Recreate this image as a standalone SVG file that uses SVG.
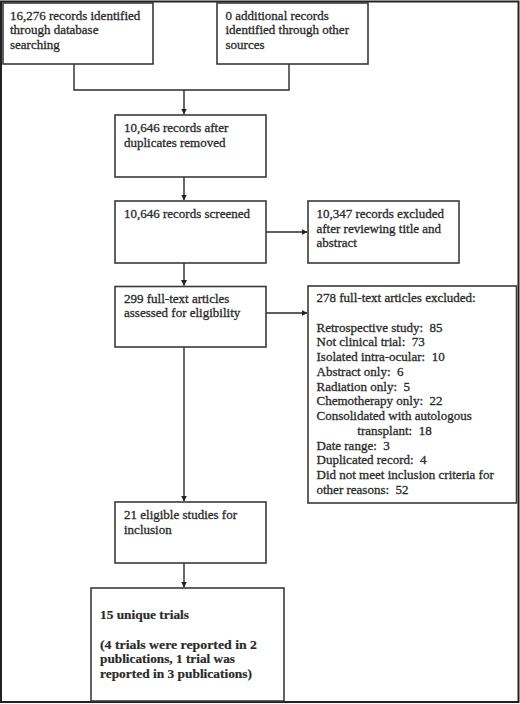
<svg xmlns="http://www.w3.org/2000/svg" width="520" height="704" viewBox="0 0 520 704">
<defs>
<marker id="ah" markerWidth="6" markerHeight="6" refX="5.5" refY="3" orient="auto" markerUnits="userSpaceOnUse">
<path d="M0,0 L6,3 L0,6 Z" fill="#222"/>
</marker>
<style>
.box{fill:#fff;stroke:#3a3a3a;stroke-width:1.6}
.frame{fill:#fff;stroke:#222;stroke-width:2}
.t{font-family:"Liberation Serif","Times New Roman",serif;font-size:13px;fill:#2a2a2a;stroke:#2a2a2a;stroke-width:0.3;white-space:pre}
.b{font-weight:bold;font-size:13.5px;stroke-width:0.2}
.c{fill:none;stroke:#2a2a2a;stroke-width:1.4}
</style>
</defs>
<rect class="frame" x="1" y="1.5" width="517.5" height="700.5"/>
<g id="connectors">
<path class="c" d="M74,64 V90 H289 V64"/>
<path class="c" d="M184,90 V114" marker-end="url(#ah)"/>
<path class="c" d="M184,177 V200" marker-end="url(#ah)"/>
<path class="c" d="M266,232 H307" marker-end="url(#ah)"/>
<path class="c" d="M184,263 V285.5" marker-end="url(#ah)"/>
<path class="c" d="M266,313 H307" marker-end="url(#ah)"/>
<path class="c" d="M184,347 V501" marker-end="url(#ah)"/>
<path class="c" d="M184,563 V587" marker-end="url(#ah)"/>
</g>
<g id="n1">
<rect class="box" x="3" y="3" width="150" height="61"/>
<text class="t" x="10" y="19.5">16,276 records identified</text>
<text class="t" x="10" y="34">through database</text>
<text class="t" x="10" y="48.5">searching</text>
</g>
<g id="n2">
<rect class="box" x="217" y="3" width="151" height="61"/>
<text class="t" x="225.5" y="19.5">0 additional records</text>
<text class="t" x="225.5" y="34">identified through other</text>
<text class="t" x="225.5" y="48.5">sources</text>
</g>
<g id="n3">
<rect class="box" x="115" y="115" width="151" height="62"/>
<text class="t" x="124" y="132">10,646 records after</text>
<text class="t" x="124" y="146.5">duplicates removed</text>
</g>
<g id="n4">
<rect class="box" x="115" y="201" width="151" height="62"/>
<text class="t" x="124" y="218">10,646 records screened</text>
</g>
<g id="n5">
<rect class="box" x="308" y="201" width="151" height="62"/>
<text class="t" x="316.5" y="218">10,347 records excluded</text>
<text class="t" x="316.5" y="232.5">after reviewing title and</text>
<text class="t" x="316.5" y="247">abstract</text>
</g>
<g id="n6">
<rect class="box" x="115" y="286.5" width="151" height="60.5"/>
<text class="t" x="124" y="302.5">299 full-text articles</text>
<text class="t" x="124" y="317">assessed for eligibility</text>
</g>
<g id="n7">
<rect class="box" x="308" y="286" width="208.5" height="217"/>
<text class="t" x="316.5" y="301.5">278 full-text articles excluded:</text>
<text class="t" x="316.5" y="331.5">Retrospective study:  85</text>
<text class="t" x="316.5" y="346.3">Not clinical trial:  73</text>
<text class="t" x="316.5" y="361">Isolated intra-ocular:  10</text>
<text class="t" x="316.5" y="375.8">Abstract only:  6</text>
<text class="t" x="316.5" y="390.6">Radiation only:  5</text>
<text class="t" x="316.5" y="405.4">Chemotherapy only:  22</text>
<text class="t" x="316.5" y="420.2">Consolidated with autologous</text>
<text class="t" x="357.3" y="435">transplant:  18</text>
<text class="t" x="316.5" y="449.7">Date range:  3</text>
<text class="t" x="316.5" y="464.4">Duplicated record:  4</text>
<text class="t" x="316.5" y="479.1">Did not meet inclusion criteria for</text>
<text class="t" x="316.5" y="493.8">other reasons:  52</text>
</g>
<g id="n8">
<rect class="box" x="115" y="502" width="151" height="61"/>
<text class="t" x="124" y="519">21 eligible studies for</text>
<text class="t" x="124" y="533.5">inclusion</text>
</g>
<g id="n9">
<rect class="box" x="91" y="588" width="193" height="113"/>
<text class="t b" x="100" y="619" textLength="89" lengthAdjust="spacingAndGlyphs">15 unique trials</text>
<text class="t b" x="100" y="648.5" textLength="157" lengthAdjust="spacingAndGlyphs">(4 trials were reported in 2</text>
<text class="t b" x="100" y="663.3" textLength="135" lengthAdjust="spacingAndGlyphs">publications, 1 trial was</text>
<text class="t b" x="100" y="678" textLength="152" lengthAdjust="spacingAndGlyphs">reported in 3 publications)</text>
</g>
</svg>
